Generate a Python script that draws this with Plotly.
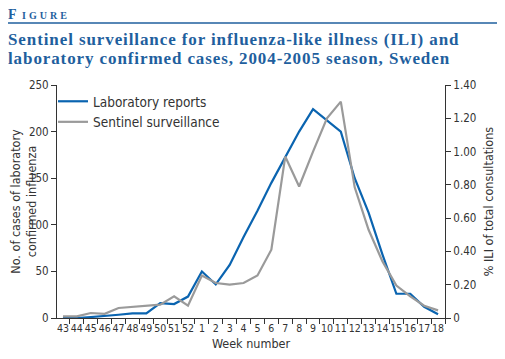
import plotly.graph_objects as go

weeks = ["43", "44", "45", "46", "47", "48", "49", "50", "51", "52",
         "1", "2", "3", "4", "5", "6", "7", "8", "9", "10", "11", "12",
         "13", "14", "15", "16", "17", "18"]
lab_reports = [0, 0, 1, 2, 3.5, 5, 5, 16, 15, 23,
               50, 36, 57, 87, 115, 145, 173, 200, 224, 212, 200, 150,
               113, 68, 26, 26, 12, 4]
sentinel_ili = [0.01, 0.01, 0.03, 0.025, 0.06, 0.066, 0.076, 0.08, 0.13, 0.074,
                0.255, 0.21, 0.20, 0.21, 0.255, 0.41, 0.97, 0.79, 1.0, 1.2, 1.30, 0.785,
                0.53, 0.34, 0.195, 0.13, 0.074, 0.046]
left_ticks = [0, 50, 100, 150, 200, 250]
right_ticks = [0, 0.2, 0.4, 0.6, 0.8, 1.0, 1.2, 1.4]
right_tick_text = ["0", "0.20", "0.40", "0.60", "0.80", "1.00", "1.20", "1.40"]

BLUE = "#0a64b0"
GREY = "#9a9a9a"
TITLE_BLUE = "#1f5f9e"
SANS = "DejaVu Sans Condensed, DejaVu Sans, sans-serif"
NARROW = "Liberation Sans Narrow, DejaVu Sans Condensed, DejaVu Sans, sans-serif"
TICKFONT = dict(family=SANS, size=11.5, color="#333")
XTICKFONT = dict(family=NARROW, size=10.5, color="#333")
AXFONT = dict(family=SANS, size=12.5, color="#333")
SERIF = "Liberation Serif, DejaVu Serif, serif"

fig = go.Figure()
fig.add_trace(go.Scatter(x=weeks, y=lab_reports, mode="lines", name="Laboratory reports",
                         line=dict(color=BLUE, width=2.2), yaxis="y"))
fig.add_trace(go.Scatter(x=weeks, y=sentinel_ili, mode="lines", name="Sentinel surveillance",
                         line=dict(color=GREY, width=2.2), yaxis="y2"))

# page is offset by the default 8px body margin
OFF = 8
W, H = 505 - OFF, 359 - OFF
L, R, T, B = 57 - OFF, 445 - OFF, 85 - OFF, 318 - OFF
pw, ph = R - L, B - T


def px(x):
    return (x - OFF - L) / pw


def py(y):
    return (B - (y - OFF)) / ph


fig.update_layout(
    width=W, height=H,
    margin=dict(l=L, r=W - R, t=T, b=H - B, pad=0),
    paper_bgcolor="white", plot_bgcolor="white",
    showlegend=True,
    legend=dict(x=px(53), y=py(86), xanchor="left", yanchor="top",
                font=dict(family=SANS, size=13.5, color="#333"),
                bgcolor="rgba(0,0,0,0)", tracegroupgap=0),
    xaxis=dict(type="category", range=[-0.43, 27.5], tickson="boundaries", tickangle=0,
               tickmode="array", tickvals=weeks, ticktext=weeks,
               ticks="outside", ticklen=5, tickcolor="#333", showline=True, linecolor="#333",
               linewidth=1, showgrid=False, zeroline=False, tickfont=XTICKFONT, automargin=False,
               title=dict(text="Week number", font=AXFONT, standoff=6)),
    yaxis=dict(range=[0, 250], tickvals=left_ticks, ticks="outside", ticklen=5, tickcolor="#333",
               showline=True, linecolor="#333", linewidth=1, showgrid=False, zeroline=False,
               tickfont=TICKFONT, automargin=False,
               title=dict(text="No. of cases of laboratory<br>confirmed influenza",
                          font=AXFONT, standoff=4)),
    yaxis2=dict(range=[0, 1.4], overlaying="y", side="right", tickvals=right_ticks, ticktext=right_tick_text,
                ticks="outside", ticklen=5, tickcolor="#333", showline=True, linecolor="#333", linewidth=1,
                showgrid=False, zeroline=False, tickfont=TICKFONT, automargin=False,
                title=dict(text="% ILI of total consultations", font=AXFONT, standoff=8)),
)

# "FIGURE" header and rule
fig.add_annotation(text="F<span style='font-size:10px;letter-spacing:3px'> IGURE</span>", xref="paper", yref="paper",
                   x=px(6), y=py(14), xanchor="left", yanchor="middle", showarrow=False,
                   font=dict(family=SERIF, size=14, color=TITLE_BLUE, weight="bold"))
fig.add_shape(type="line", xref="paper", yref="paper", x0=px(8), x1=px(498), y0=py(23), y1=py(23),
              line=dict(color=TITLE_BLUE, width=1.5))

title_lines = ["Sentinel surveillance for influenza-like illness (ILI) and",
               "laboratory confirmed cases, 2004-2005 season, Sweden"]
for i, line in enumerate(title_lines):
    fig.add_annotation(text="<span style='letter-spacing:0.9px'>" + line + "</span>",
                       xref="paper", yref="paper", x=px(6), y=py(39 + 19 * i),
                       xanchor="left", yanchor="middle", showarrow=False,
                       font=dict(family=SERIF, size=17, color=TITLE_BLUE, weight="bold"))

fig.write_html("out.html")
